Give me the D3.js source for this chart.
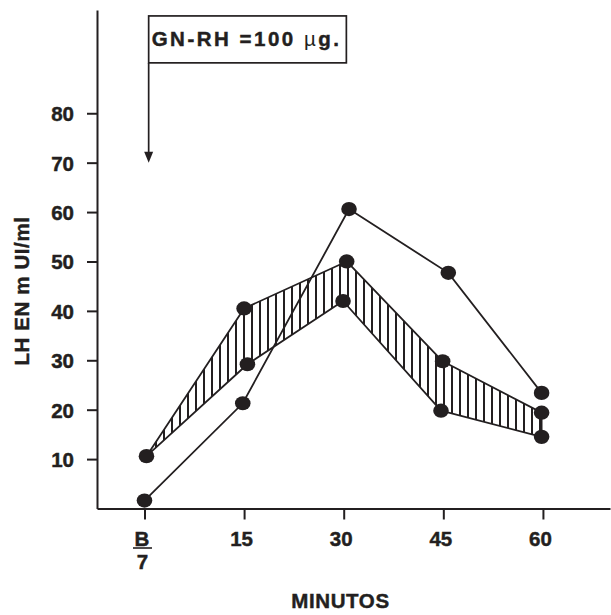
<!DOCTYPE html>
<html>
<head>
<meta charset="utf-8">
<script src="https://cdn.jsdelivr.net/npm/d3@7"></script>
<style>
  html, body { margin: 0; padding: 0; background: #ffffff; }
  svg { display: block; }
  text { stroke: #231f20; stroke-width: 0.45px; }
</style>
</head>
<body>
<svg id="chart"></svg>
<script>
// minutes after GN-RH (B = basal), LH values in mUI/ml
const xTicks = [0, 15, 30, 45, 60]
const xTickLabels = ["B", "15", "30", "45", "60"]
const yTicks = [10, 20, 30, 40, 50, 60, 70, 80]

// single patient curve
const lineMinutes = [0, 14.8, 30.8, 45.75, 59.8]
const lineValues = [1.6, 21.3, 60.6, 47.7, 23.4]

// hatched band (upper and lower limits)
const upperMinutes = [0.3, 15.0, 30.45, 44.9, 59.8]
const upperValues = [10.6, 40.5, 50.0, 29.8, 19.4]
const lowerMinutes = [0.3, 15.5, 29.9, 44.65, 59.8]
const lowerValues = [10.6, 29.2, 42.0, 19.8, 14.5]

const width = 611
const height = 615
const ink = "#231f20"
const font = "'Liberation Sans', Arial, sans-serif"

const x = d3.scaleLinear().domain([-7.15, 70.1]).range([97, 610])
const y = d3.scaleLinear().domain([0, 100.9]).range([508.5, 10])

const svg = d3.select("#chart")
  .attr("width", width)
  .attr("height", height)

svg.append("rect")
  .attr("width", width)
  .attr("height", height)
  .attr("fill", "#ffffff")

// hatch pattern
svg.append("defs").append("pattern")
  .attr("id", "hatch")
  .attr("patternUnits", "userSpaceOnUse")
  .attr("width", 8)
  .attr("height", 8)
  .append("line")
  .attr("x1", 4).attr("x2", 4)
  .attr("y1", 0).attr("y2", 8)
  .attr("stroke", ink)
  .attr("stroke-width", 2)

// axes
const yAxis = svg.append("g")
  .attr("transform", `translate(${x(-7.15)},0)`)
  .call(d3.axisLeft(y).tickValues(yTicks).tickSize(10).tickSizeOuter(0).tickPadding(13))

yAxis.selectAll("path, line").attr("stroke", ink).attr("stroke-width", 2)
yAxis.selectAll("text")
  .attr("font-family", font)
  .attr("font-size", 20.5)
  .attr("font-weight", "bold")
  .attr("fill", ink)
  .attr("dy", "0.36em")

const xAxis = svg.append("g")
  .attr("transform", `translate(0,${y(0)})`)
  .call(d3.axisBottom(x).tickValues(xTicks).tickSize(11).tickSizeOuter(0).tickFormat(""))

xAxis.selectAll("path, line").attr("stroke", ink).attr("stroke-width", 2)

const xLabels = svg.append("g").attr("id", "xlabels")
  .attr("font-family", font)
  .attr("font-size", 20.5)
  .attr("font-weight", "bold")
  .attr("fill", ink)
  .attr("text-anchor", "middle")

xLabels.selectAll("text.tick")
  .data(xTicks)
  .join("text")
  .attr("class", "tick")
  .attr("x", (d) => x(d) - 2.5)
  .attr("y", 546)
  .text((d, i) => xTickLabels[i])

// B over 7
xLabels.append("line")
  .attr("x1", x(0) - 11.5).attr("x2", x(0) + 7.5)
  .attr("y1", 548).attr("y2", 548)
  .attr("stroke", ink)
  .attr("stroke-width", 1.6)
xLabels.append("text")
  .attr("x", x(0) - 2)
  .attr("y", 569)
  .text("7")

// axis titles
svg.append("text")
  .attr("x", 340.5)
  .attr("y", 607.5)
  .attr("text-anchor", "middle")
  .attr("font-family", font)
  .attr("font-size", 20.5)
  .attr("font-weight", "bold")
  .attr("letter-spacing", 0.6)
  .attr("fill", ink)
  .text("MINUTOS")

svg.append("text")
  .attr("transform", "translate(29,291) rotate(-90)")
  .attr("text-anchor", "middle")
  .attr("font-family", font)
  .attr("font-size", 20.5)
  .attr("font-weight", "bold")
  .attr("letter-spacing", 0.6)
  .attr("fill", ink)
  .text("LH EN m UI/ml")

// band
const upper = upperMinutes.map((m, i) => [x(m), y(upperValues[i])])
const lower = lowerMinutes.map((m, i) => [x(m), y(lowerValues[i])])

svg.append("path")
  .attr("d", d3.line()(upper.concat(lower.slice().reverse())) + "Z")
  .attr("fill", "url(#hatch)")
  .attr("stroke", ink)
  .attr("stroke-width", 1.8)
  .attr("stroke-linejoin", "round")

const curve = lineMinutes.map((m, i) => [x(m), y(lineValues[i])])

svg.append("path")
  .attr("d", d3.line()(curve))
  .attr("fill", "none")
  .attr("stroke", ink)
  .attr("stroke-width", 1.8)

// points
const points = curve.concat(upper, lower.slice(1))

svg.append("g").attr("id", "points")
  .selectAll("ellipse")
  .data(points)
  .join("ellipse")
  .attr("cx", (d) => d[0])
  .attr("cy", (d) => d[1])
  .attr("rx", 7.8)
  .attr("ry", 7.1)
  .attr("fill", ink)

// GN-RH annotation
const annX = x(0.63)
const boxTop = y(99.7)
const boxBottom = y(90.2)
const boxRight = x(30.4)
const arrowTip = y(70)

const ann = svg.append("g").attr("id", "annotation")

ann.append("rect")
  .attr("x", annX)
  .attr("y", boxTop)
  .attr("width", boxRight - annX)
  .attr("height", boxBottom - boxTop)
  .attr("fill", "none")
  .attr("stroke", ink)
  .attr("stroke-width", 1.7)

ann.append("line")
  .attr("x1", annX).attr("x2", annX)
  .attr("y1", boxBottom).attr("y2", arrowTip - 9)
  .attr("stroke", ink)
  .attr("stroke-width", 1.7)

ann.append("path")
  .attr("d", `M${annX - 4.5},${arrowTip - 11}L${annX + 4.5},${arrowTip - 11}L${annX},${arrowTip}Z`)
  .attr("fill", ink)

const annText = ann.append("text")
  .attr("x", annX + 3)
  .attr("y", 46)
  .attr("font-family", font)
  .attr("font-size", 20.5)
  .attr("font-weight", "bold")
  .attr("letter-spacing", 2.5)
  .attr("fill", ink)

annText.append("tspan").text("GN-RH =100 ")
annText.append("tspan").attr("font-weight", "normal").attr("stroke-width", 0).text("\u00b5")
annText.append("tspan").text("g.")
</script>
</body>
</html>
